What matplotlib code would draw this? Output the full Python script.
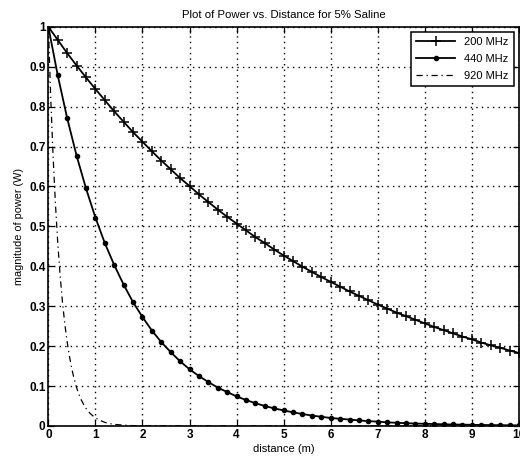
import matplotlib
matplotlib.use("Agg")
import matplotlib.pyplot as plt

plt.rcParams['font.family'] = ['Liberation Sans', 'DejaVu Sans']

# distance (m), sampled every 0.2 m
dist = [0.0, 0.2, 0.4, 0.6, 0.8, 1.0, 1.2, 1.4, 1.6, 1.8,
        2.0, 2.2, 2.4, 2.6, 2.8, 3.0, 3.2, 3.4, 3.6, 3.8,
        4.0, 4.2, 4.4, 4.6, 4.8, 5.0, 5.2, 5.4, 5.6, 5.8,
        6.0, 6.2, 6.4, 6.6, 6.8, 7.0, 7.2, 7.4, 7.6, 7.8,
        8.0, 8.2, 8.4, 8.6, 8.8, 9.0, 9.2, 9.4, 9.6, 9.8, 10.0]

p200 = [1.000, 0.967, 0.934, 0.903, 0.873, 0.844, 0.816, 0.788, 0.762, 0.736,
        0.712, 0.688, 0.665, 0.643, 0.621, 0.601, 0.580, 0.561, 0.542, 0.524,
        0.507, 0.490, 0.473, 0.458, 0.442, 0.427, 0.413, 0.399, 0.386, 0.373,
        0.361, 0.349, 0.337, 0.326, 0.315, 0.304, 0.294, 0.284, 0.275, 0.266,
        0.257, 0.248, 0.240, 0.232, 0.224, 0.217, 0.209, 0.202, 0.196, 0.189, 0.183]

p440 = [1.000, 0.878, 0.771, 0.677, 0.595, 0.522, 0.458, 0.403, 0.354, 0.310,
        0.273, 0.239, 0.210, 0.185, 0.162, 0.142, 0.125, 0.110, 0.096, 0.085,
        0.074, 0.065, 0.057, 0.050, 0.044, 0.039, 0.034, 0.030, 0.026, 0.023,
        0.020, 0.018, 0.016, 0.014, 0.012, 0.011, 0.009, 0.008, 0.007, 0.006,
        0.0055, 0.0048, 0.0042, 0.0037, 0.0033, 0.0029, 0.0025, 0.0022, 0.0020, 0.0017, 0.0015]

# 920 MHz curve (finer reading near the origin)
dist920 = [0.0, 0.05, 0.10, 0.15, 0.20, 0.25, 0.30, 0.35, 0.40, 0.45,
           0.50, 0.55, 0.60, 0.65, 0.70, 0.75, 0.80, 0.85, 0.90, 0.95,
           1.00, 1.10, 1.20, 1.30, 1.40, 1.50, 1.75, 2.0, 3.0, 4.0,
           5.0, 6.0, 7.0, 8.0, 9.0, 10.0]
p920 = [1.000, 0.823, 0.677, 0.557, 0.458, 0.377, 0.310, 0.255, 0.210, 0.173,
        0.142, 0.117, 0.096, 0.079, 0.065, 0.054, 0.044, 0.036, 0.030, 0.025,
        0.020, 0.014, 0.009, 0.006, 0.004, 0.003, 0.001, 0.0004, 0.0, 0.0,
        0.0, 0.0, 0.0, 0.0, 0.0, 0.0]

labels = ['200 MHz', '440 MHz', '920 MHz']
xticks = [0, 1, 2, 3, 4, 5, 6, 7, 8, 9, 10]
yticks = [0, 0.1, 0.2, 0.3, 0.4, 0.5, 0.6, 0.7, 0.8, 0.9, 1]
ytick_labels = ['0', '0.1', '0.2', '0.3', '0.4', '0.5', '0.6', '0.7', '0.8', '0.9', '1']

fig = plt.figure(figsize=(5.2, 4.62), dpi=100)
ax = fig.add_axes([0.093, 0.078, 0.905, 0.864])

ax.plot(dist, p200, color='black', lw=1.3, marker='+', ms=7, mew=1.1, label=labels[0])
ax.plot(dist, p440, color='black', lw=1.3, marker='.', ms=6, label=labels[1])
ax.plot(dist920, p920, color='black', lw=0.9, ls=(0, (5, 3, 1, 3)), label=labels[2])

ax.set_xlim(0, 10)
ax.set_ylim(0, 1)
ax.set_xticks(xticks)
ax.set_xticklabels([str(t) for t in xticks])
ax.set_yticks(yticks)
ax.set_yticklabels(ytick_labels)
ax.grid(True, color='black', ls=(0, (1, 3)), lw=1.0)
ax.tick_params(direction='in', top=True, right=True, length=4, width=0.9,
               labelsize=8.5, pad=2)
for lbl in ax.get_xticklabels() + ax.get_yticklabels():
    lbl.set_fontweight('bold')
for s in ax.spines.values():
    s.set_linewidth(1.2)

ax.set_title('Plot of Power vs. Distance for 5% Saline', fontsize=8.2, pad=6)
ax.set_xlabel('distance (m)', fontsize=8, labelpad=2)
ax.set_ylabel('magnitude of power (W)', fontsize=7.8, labelpad=4)

leg = ax.legend(loc='upper right', fontsize=8, handlelength=3.5, frameon=True,
                fancybox=False, edgecolor='black', framealpha=1,
                borderaxespad=0.45, labelspacing=0.6, borderpad=0.5)
leg.get_frame().set_linewidth(1.1)

fig.savefig('out.png', dpi=100)
